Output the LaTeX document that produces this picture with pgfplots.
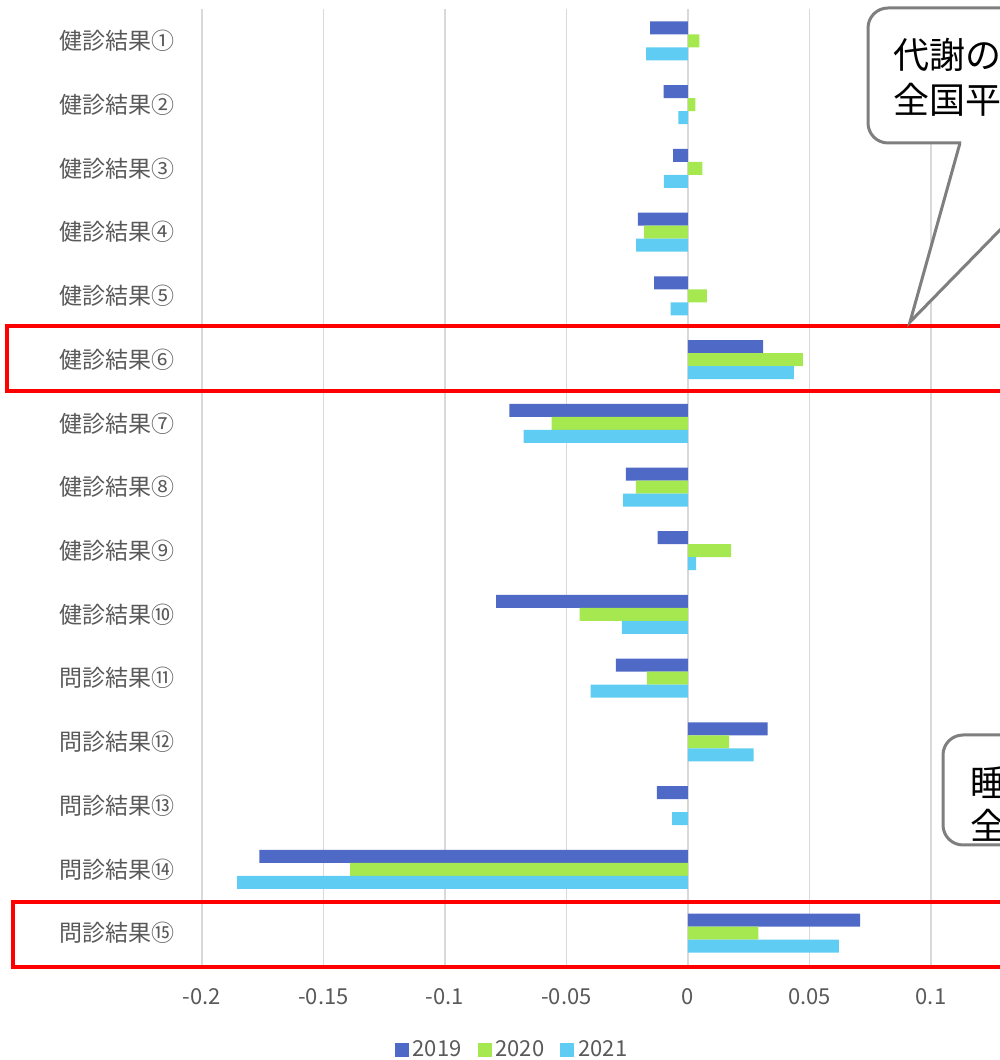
\documentclass[border=0pt]{standalone}
\usepackage{pgfplots}
\pgfplotsset{compat=1.18}
\usepackage{fontspec}
\setmainfont{Noto Sans CJK JP}
\definecolor{cA}{HTML}{4F69C6}
\definecolor{cB}{HTML}{A5E850}
\definecolor{cC}{HTML}{5FCDF3}
\definecolor{lab}{HTML}{595959}
\definecolor{grd}{HTML}{D9D9D9}
\definecolor{cal}{HTML}{7F7F7F}
\begin{document}
\begin{tikzpicture}
\begin{axis}[
  at={(0,0)}, anchor=south west,
  scale only axis, width=399pt, height=478pt,
  xbar=0pt, bar width=6.5pt,
  xmin=-0.2, xmax=0.1284,
  ymin=0.5, ymax=15.5, y dir=reverse,
  ytick={1,...,15},
  yticklabels={健診結果①,健診結果②,健診結果③,健診結果④,健診結果⑤,健診結果⑥,健診結果⑦,健診結果⑧,健診結果⑨,健診結果⑩,問診結果⑪,問診結果⑫,問診結果⑬,問診結果⑭,問診結果⑮},
  xtick={-0.2,-0.15,-0.1,-0.05,0,0.05,0.1},
  xticklabels={-0.2,-0.15,-0.1,-0.05,0,0.05,0.1},
  axis line style={draw=none},
  major tick length=0pt,
  xmajorgrids, grid style={grd, line width=0.8pt},
  yticklabel style={font=\fontsize{11.5}{13}\selectfont, text=lab, anchor=east, xshift=-10pt},
  xticklabel style={font=\fontsize{11}{13}\selectfont, text=lab, anchor=center, yshift=-16pt},
  legend style={draw=none, at={(0.3897,-0.0889)}, anchor=center, legend columns=3,
    font=\fontsize{11}{13}\selectfont, text=lab, /tikz/every even column/.append style={column sep=6pt}},
  legend image code/.code={\fill[#1] (0pt,-3.5pt) rectangle (7pt,3.5pt);},
  clip=false,
]
\addplot[fill=cA, draw=none, bar shift=6.5pt] coordinates {
(-0.0156,1) (-0.0100,2) (-0.0061,3) (-0.0206,4) (-0.0139,5) (0.0309,6) (-0.0735,7) (-0.0256,8) (-0.0125,9) (-0.0790,10) (-0.0297,11) (0.0328,12) (-0.0128,13) (-0.1764,14) (0.0708,15)};
\addplot[fill=cB, draw=none, bar shift=0pt] coordinates {
(0.0047,1) (0.0030,2) (0.0059,3) (-0.0181,4) (0.0078,5) (0.0473,6) (-0.0561,7) (-0.0215,8) (0.0177,9) (-0.0446,10) (-0.0169,11) (0.0169,12) (0,13) (-0.1390,14) (0.0290,15)};
\addplot[fill=cC, draw=none, bar shift=-6.5pt] coordinates {
(-0.0172,1) (-0.0040,2) (-0.0099,3) (-0.0213,4) (-0.0071,5) (0.0436,6) (-0.0676,7) (-0.0267,8) (0.0033,9) (-0.0272,10) (-0.0401,11) (0.0270,12) (-0.0065,13) (-0.1855,14) (0.0621,15)};
\legend{2019,2020,2021}
\end{axis}
\begin{scope}
\clip (-101pt,-47.5pt) rectangle (399pt,482.5pt);
\draw[red, line width=2pt] (-97.5pt,287pt) rectangle (404pt,319.5pt);
\draw[red, line width=2pt] (-94.5pt,-1pt) rectangle (404pt,31.5pt);
% callout 1
\draw[cal, line width=1.5pt, fill=white, rounded corners=10pt] (333pt,411pt) rectangle (474pt,478.5pt);
\fill[white] (379.8pt,412pt) -- (354pt,321.5pt) -- (440.5pt,412pt) -- cycle;
\draw[cal, line width=1.5pt, line join=miter] (379pt,411pt) -- (354pt,321.5pt) -- (441.5pt,411pt);
\node[anchor=west, inner sep=0pt, font=\fontsize{18}{22}\selectfont] at (345.5pt,455pt) {代謝のリスクが};
\node[anchor=west, inner sep=0pt, font=\fontsize{18}{22}\selectfont] at (345.5pt,432.5pt) {全国平均より高い};
% callout 2
\draw[cal, line width=1.5pt, fill=white, rounded corners=10pt] (370.5pt,60pt) rectangle (474pt,115pt);
\node[anchor=west, inner sep=0pt, font=\fontsize{18}{22}\selectfont] at (384pt,91pt) {睡眠の質が};
\node[anchor=west, inner sep=0pt, font=\fontsize{18}{22}\selectfont] at (384pt,69.5pt) {全国平均より良い};
\end{scope}
\pgfresetboundingbox
\path[use as bounding box] (-101pt,-47.5pt) rectangle (399pt,482.5pt);
\end{tikzpicture}
\end{document}
